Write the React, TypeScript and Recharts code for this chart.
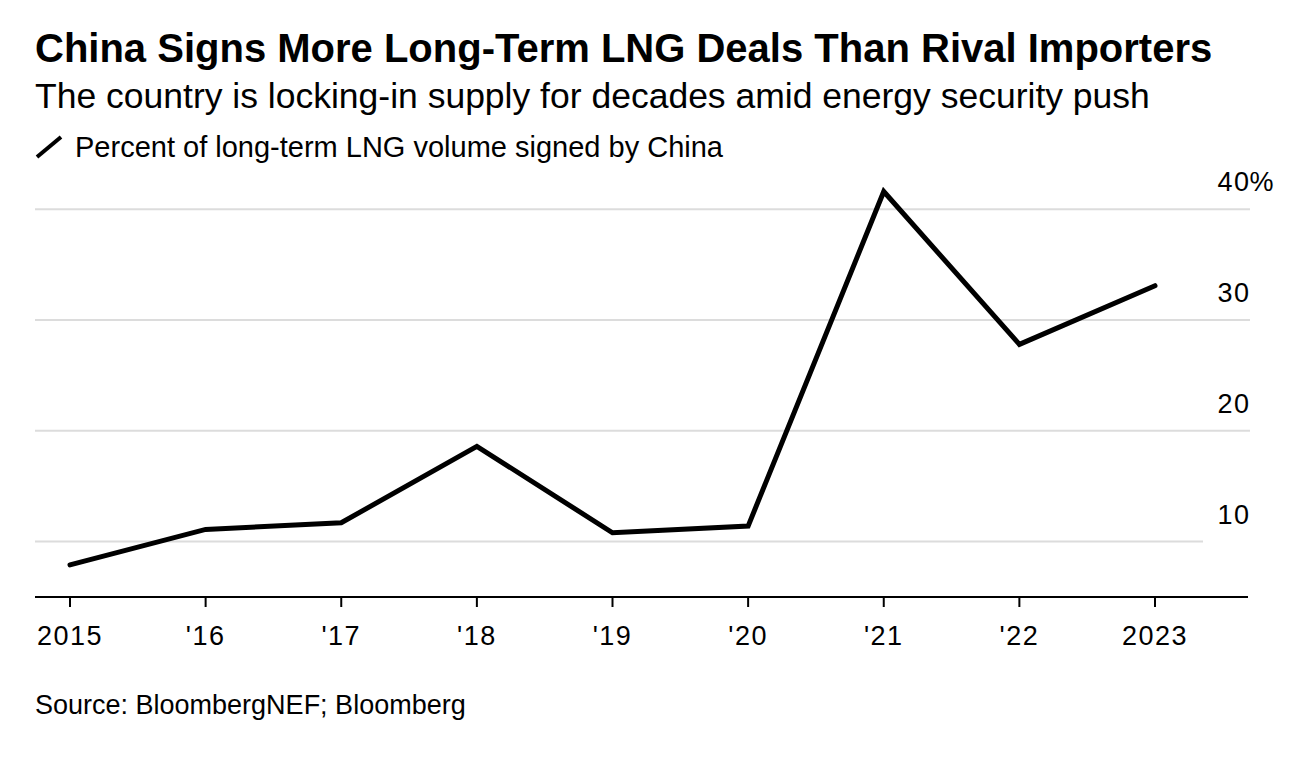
import React from 'react';
import { LineChart, Line, XAxis, YAxis, CartesianGrid } from 'recharts';

const years = ['2015', "'16", "'17", "'18", "'19", "'20", "'21", "'22", '2023'];
const chinaShare = [7.9, 11.1, 11.7, 18.6, 10.8, 11.4, 41.6, 27.8, 33.1];
const yTicks = [10, 20, 30, 40];

const data = years.map((year, i) => ({ year, value: chinaShare[i] }));

const FONT = '"Liberation Sans", Arial, Helvetica, sans-serif';

function YTick(props: any) {
  const { x, y, payload } = props;
  const isTop = payload.value === yTicks[yTicks.length - 1];
  return (
    <g>
      <text x={x + 2.5} y={y - 18} textAnchor="end" fontSize={27} letterSpacing={1.5} fontFamily={FONT} fill="#000">
        {payload.value}
      </text>
      {isTop && (
        <text x={x + 1.5} y={y - 18} textAnchor="start" fontSize={27} fontFamily={FONT} fill="#000">
          %
        </text>
      )}
    </g>
  );
}

function GridLine(props: any) {
  const { x1, x2, y1, y2, index } = props;
  const end = index === 0 ? x2 - 45 : x2 + 2;
  return <line key={`g-${index}`} x1={x1} x2={end} y1={y1} y2={y2} stroke="#dcdcdc" strokeWidth={2} />;
}

export default function App() {
  return (
    <div style={{ position: 'absolute', left: 0, top: 0, width: 1310, height: 770, background: '#fff', fontFamily: FONT, color: '#000' }}>
      <div style={{ position: 'absolute', left: 35, top: 28, fontSize: 40, lineHeight: '40px', fontWeight: 700, whiteSpace: 'nowrap' }}>
        China Signs More Long-Term LNG Deals Than Rival Importers
      </div>
      <div style={{ position: 'absolute', left: 35, top: 79, fontSize: 35.5, lineHeight: '35.5px', whiteSpace: 'nowrap' }}>
        The country is locking-in supply for decades amid energy security push
      </div>
      <svg style={{ position: 'absolute', left: 35, top: 133 }} width={30} height={28}>
        <line x1={2} y1={24} x2={26} y2={4} stroke="#000" strokeWidth={4} />
      </svg>
      <div style={{ position: 'absolute', left: 75, top: 132.5, fontSize: 29, lineHeight: '29px', whiteSpace: 'nowrap' }}>
        Percent of long-term LNG volume signed by China
      </div>
      <div style={{ position: 'absolute', left: 35, top: 692, fontSize: 27, lineHeight: '27px', whiteSpace: 'nowrap' }}>
        Source: BloombergNEF; Bloomberg
      </div>
      <div style={{ position: 'absolute', left: 0, top: 0 }}>
        <LineChart width={1310} height={770} data={data} margin={{ top: 176, right: 0, bottom: 113, left: 35 }}>
          <CartesianGrid vertical={false} horizontalValues={yTicks} horizontal={(p: any) => <GridLine {...p} />} />
          <XAxis
            dataKey="year"
            padding={{ left: 35, right: 93 }}
            height={60}
            tickSize={10}
            tickMargin={19}
            axisLine={{ stroke: '#000', strokeWidth: 2 }}
            tickLine={{ stroke: '#000', strokeWidth: 2 }}
            tick={{ fontSize: 27, fill: '#000', fontFamily: FONT, letterSpacing: 1.5 }}
            interval={0}
          />
          <YAxis
            orientation="right"
            width={62}
            domain={[5, 43]}
            ticks={yTicks}
            axisLine={false}
            tickLine={false}
            tickSize={0}
            tickMargin={0}
            tick={<YTick />}
          />
          <Line
            type="linear"
            dataKey="value"
            stroke="#000"
            strokeWidth={5}
            strokeLinecap="round"
            dot={false}
            activeDot={false}
            isAnimationActive={false}
          />
        </LineChart>
      </div>
    </div>
  );
}
